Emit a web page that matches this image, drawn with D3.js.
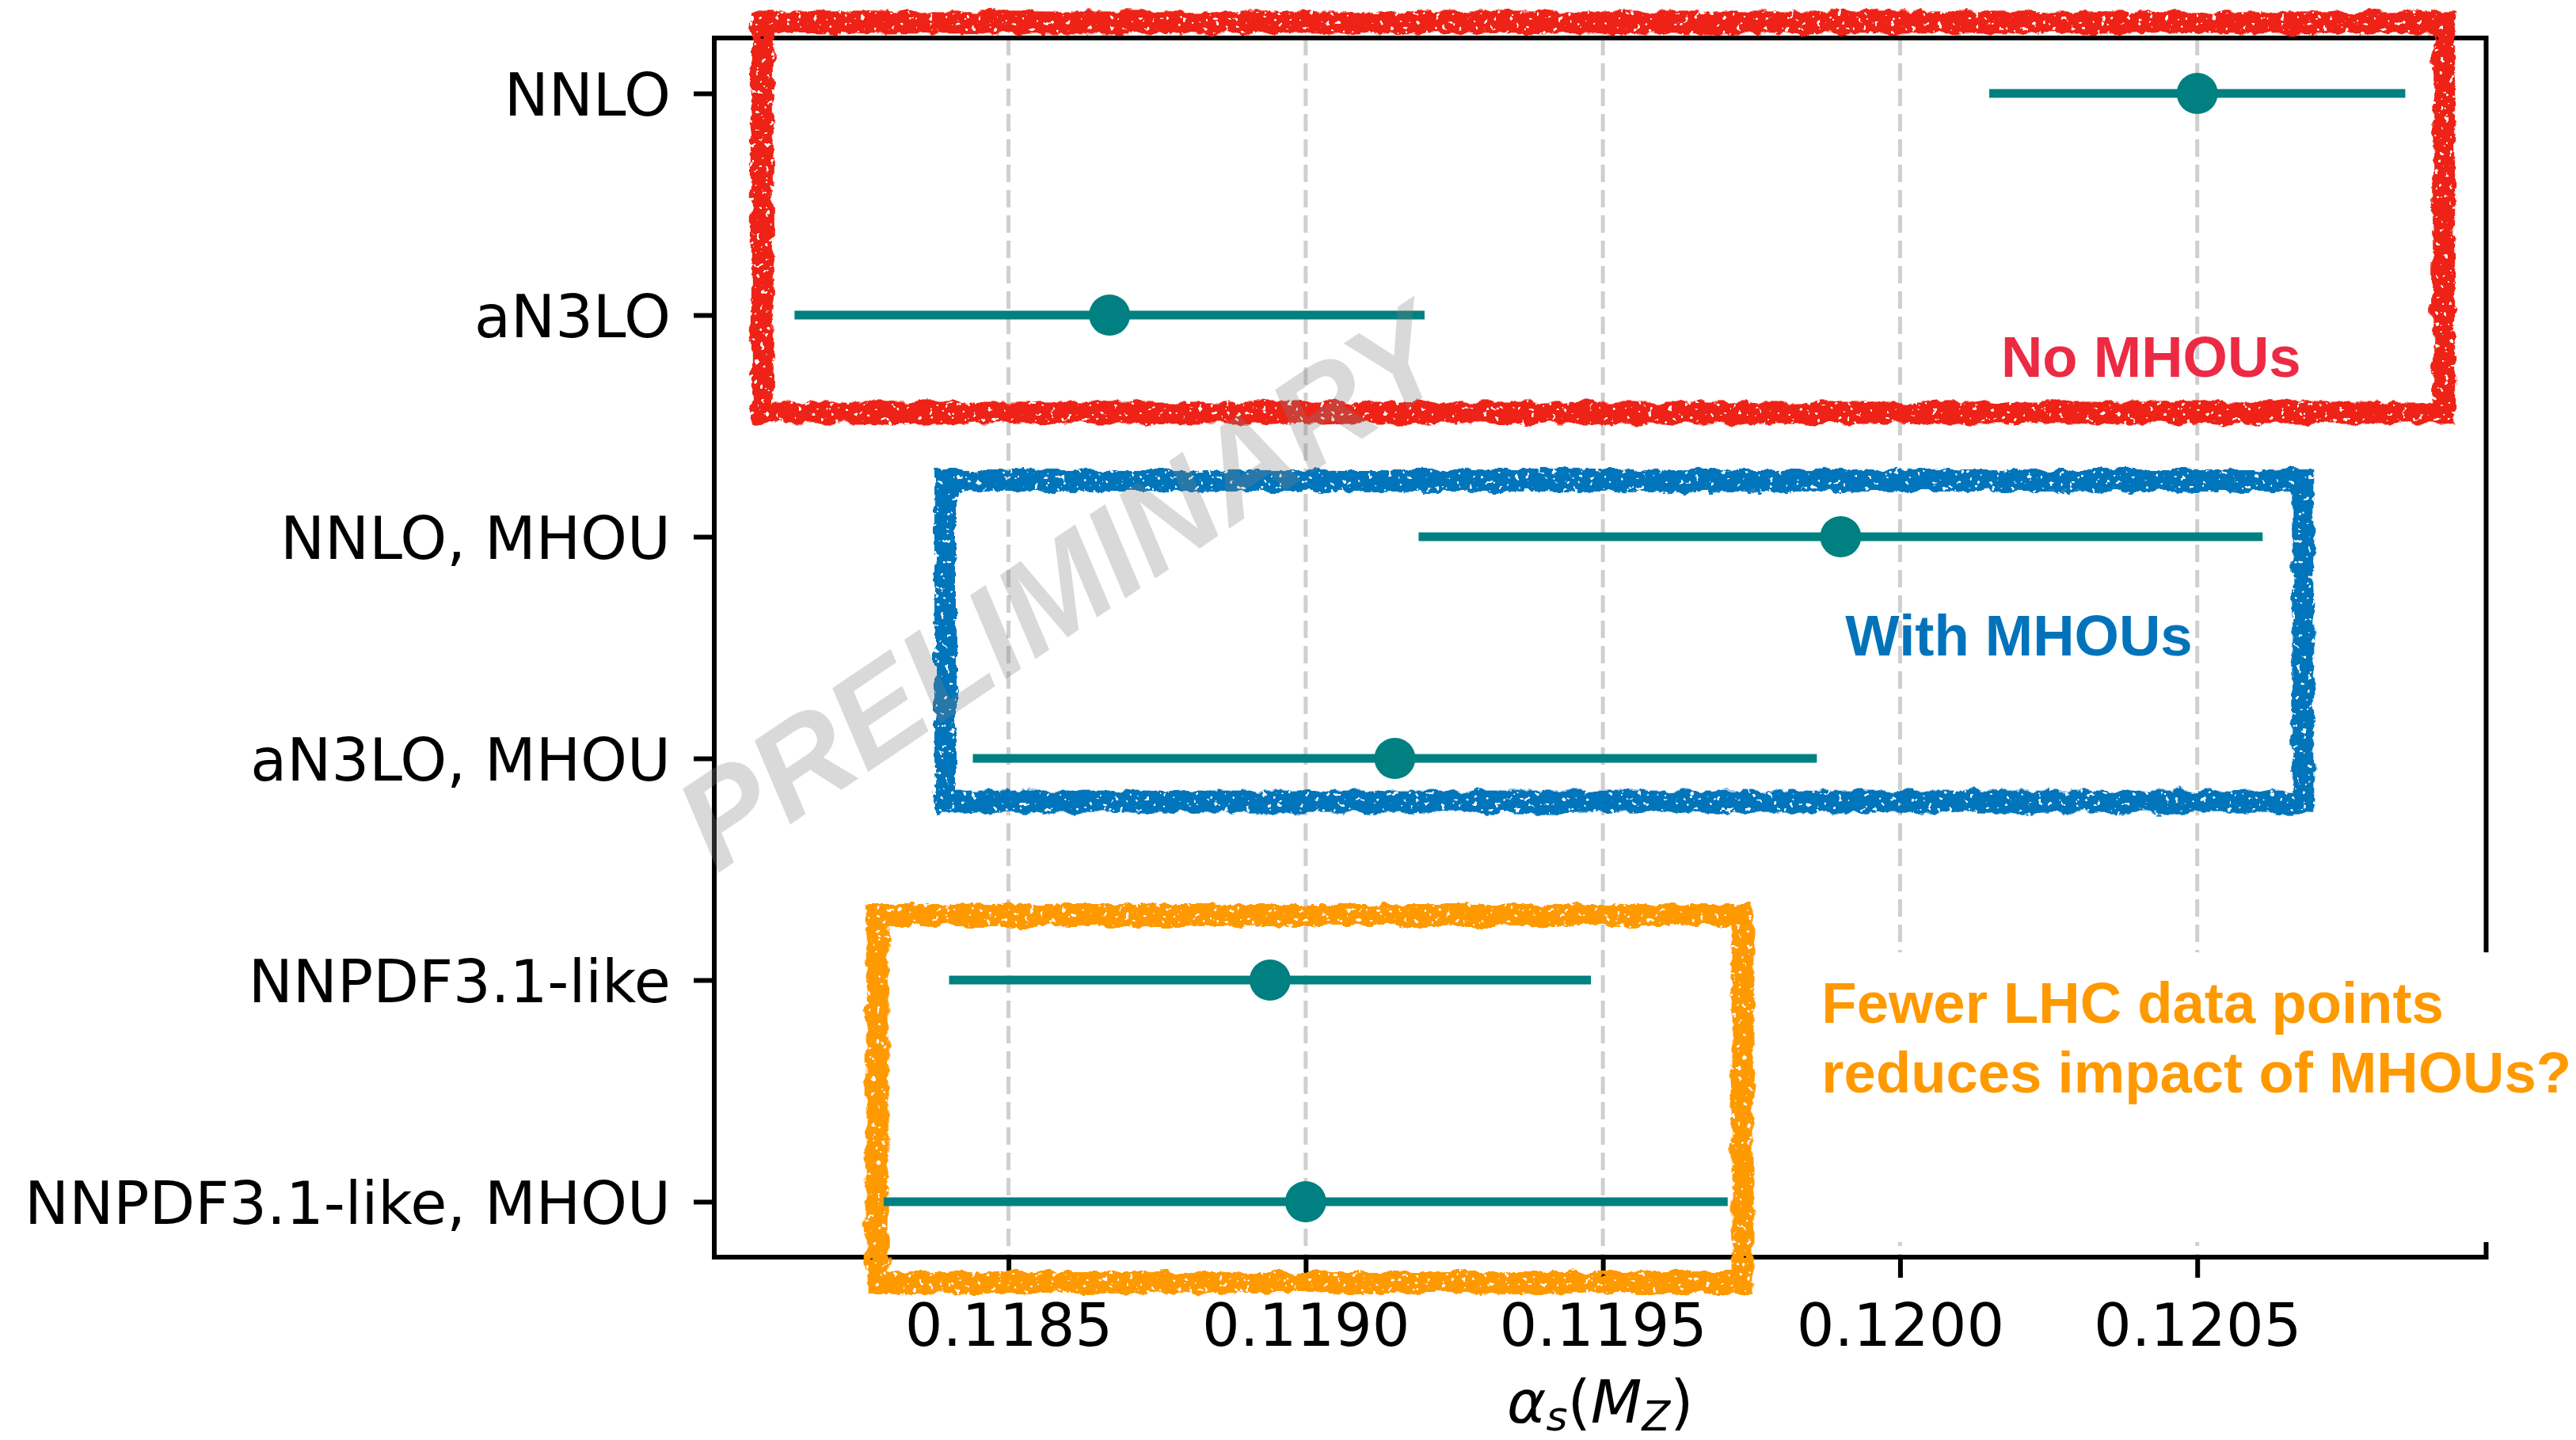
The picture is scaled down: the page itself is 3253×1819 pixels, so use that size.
<!DOCTYPE html>
<html>
<head>
<meta charset="utf-8">
<script src="https://cdn.jsdelivr.net/npm/d3@7"></script>
<style>
  html, body { margin: 0; padding: 0; background: #ffffff; }
  svg { display: block; }
</style>
</head>
<body>
<script>
// ---------------- data ----------------
const categories = ["NNLO", "aN3LO", "NNLO, MHOU", "aN3LO, MHOU", "NNPDF3.1-like", "NNPDF3.1-like, MHOU"];
const centralValues = [0.12050, 0.11867, 0.11990, 0.11915, 0.11894, 0.11900];
const errorValues   = [0.00035, 0.00053, 0.00071, 0.00071, 0.00054, 0.00071];
const xTickValues   = [0.1185, 0.1190, 0.1195, 0.1200, 0.1205];
const xTickLabels   = ["0.1185", "0.1190", "0.1195", "0.1200", "0.1205"];
const xDomain       = [0.118005, 0.120986];

// annotation boxes (x in alpha_s units, y in row-index units)
const boxNames  = ["noMHOU", "withMHOU", "nnpdf31"];
const boxXRange = [[0.118086, 0.120915], [0.118394, 0.120678], [0.118279, 0.119735]];
const boxYRange = [[-0.320, 1.441], [1.746, 3.195], [3.707, 5.364]];
const boxColors = ["#ee2412", "#0274bb", "#ff9900"];

const noteLines  = [["No MHOUs"], ["With MHOUs"], ["Fewer LHC data points", "reduces impact of MHOUs?"]];
const noteX      = [0.120170, 0.119908, 0.119868];
const noteY      = [1.279, 2.536, 4.193];
const noteColors = ["#ec2a43", "#0273bb", "#ff9900"];

// ---------------- layout ----------------
(function () {
const W = 3253, H = 1819;
const pLeft = 902, pRight = 3139.5, pTop = 48, pBottom = 1588;

const svg = d3.select("body").append("svg")
  .attr("width", W).attr("height", H)
  .attr("viewBox", `0 0 ${W} ${H}`);

svg.append("rect").attr("width", W).attr("height", H).attr("fill", "#fff");

const defs = svg.append("defs");
const f = defs.append("filter").attr("id", "rough")
  .attr("x", "-10%").attr("y", "-15%").attr("width", "120%").attr("height", "130%");
f.append("feTurbulence").attr("type", "fractalNoise").attr("baseFrequency", "0.05")
  .attr("numOctaves", 4).attr("seed", 4).attr("result", "t1");
f.append("feDisplacementMap").attr("in", "SourceGraphic").attr("in2", "t1")
  .attr("scale", 13).attr("xChannelSelector", "R").attr("yChannelSelector", "G").attr("result", "d");
f.append("feTurbulence").attr("type", "fractalNoise").attr("baseFrequency", "0.15")
  .attr("numOctaves", 2).attr("seed", 11).attr("result", "t2");
const ct = f.append("feComponentTransfer").attr("in", "t2").attr("result", "mask");
ct.append("feFuncA").attr("type", "linear").attr("slope", -25).attr("intercept", 18);
f.append("feComposite").attr("in", "d").attr("in2", "mask").attr("operator", "in");

const x = d3.scaleLinear().domain(xDomain).range([pLeft, pRight]);
const y = d3.scalePoint().domain(categories).range([pTop, pBottom]).padding(0.25);
const yIdx = d3.scaleLinear().domain([-0.25, categories.length - 0.75]).range([pTop, pBottom]);

// grid lines
svg.append("g").selectAll("line").data(xTickValues).join("line")
  .attr("x1", d => x(d)).attr("x2", d => x(d))
  .attr("y1", pTop).attr("y2", pBottom)
  .attr("stroke", "#cfcfcf").attr("stroke-width", 5)
  .attr("stroke-dasharray", "22,10");

// frame (spines)
svg.append("rect")
  .attr("x", pLeft).attr("y", pTop).attr("width", pRight - pLeft).attr("height", pBottom - pTop)
  .attr("fill", "none").attr("stroke", "#000").attr("stroke-width", 6);

// white background of the orange note (hides grid and spine there)
svg.append("rect")
  .attr("x", x(0.119800)).attr("y", 1203)
  .attr("width", W - x(0.119800)).attr("height", 1569 - 1203)
  .attr("fill", "#fff");

// axes
const xAxis = d3.axisBottom(x).tickValues(xTickValues).tickFormat((d, i) => xTickLabels[i])
  .tickSize(26).tickSizeOuter(0);
const gx = svg.append("g").attr("transform", `translate(0,${pBottom})`).call(xAxis);
gx.select(".domain").remove();
gx.selectAll(".tick line").attr("stroke", "#000").attr("stroke-width", 6);
gx.selectAll(".tick text").attr("y", 112).attr("dy", null)
  .attr("font-family", "DejaVu Sans").attr("font-size", 75).attr("fill", "#000");

const yAxis = d3.axisLeft(y).tickSize(26).tickSizeOuter(0);
const gy = svg.append("g").attr("transform", `translate(${pLeft},0)`).call(yAxis);
gy.select(".domain").remove();
gy.selectAll(".tick line").attr("stroke", "#000").attr("stroke-width", 6);
gy.selectAll(".tick text").attr("x", -55).attr("dy", "0.36em")
  .attr("font-family", "DejaVu Sans").attr("font-size", 75).attr("fill", "#000");

// x-axis label  alpha_s(M_Z)
const xl = svg.append("text")
  .attr("x", (pLeft + pRight) / 2).attr("y", 1797)
  .attr("text-anchor", "middle")
  .attr("font-family", "DejaVu Sans").attr("font-size", 75).attr("fill", "#000");
xl.append("tspan").attr("font-style", "italic").text("α");
xl.append("tspan").attr("font-style", "italic").attr("font-size", 52).attr("dy", 10).text("s");
xl.append("tspan").attr("dy", -10).text("(");
xl.append("tspan").attr("font-style", "italic").text("M");
xl.append("tspan").attr("font-style", "italic").attr("font-size", 52).attr("dy", 10).text("Z");
xl.append("tspan").attr("dy", -10).text(")");

// hand-drawn boxes
svg.append("g").selectAll("rect").data(boxNames).join("rect")
  .attr("x", (d, i) => x(boxXRange[i][0]))
  .attr("y", (d, i) => yIdx(boxYRange[i][0]))
  .attr("width", (d, i) => x(boxXRange[i][1]) - x(boxXRange[i][0]))
  .attr("height", (d, i) => yIdx(boxYRange[i][1]) - yIdx(boxYRange[i][0]))
  .attr("fill", "none")
  .attr("stroke", (d, i) => boxColors[i])
  .attr("stroke-width", 28)
  .attr("filter", "url(#rough)");

// error bars
const gE = svg.append("g");
gE.selectAll("line").data(categories).join("line")
  .attr("x1", (d, i) => x(centralValues[i] - errorValues[i]))
  .attr("x2", (d, i) => x(centralValues[i] + errorValues[i]))
  .attr("y1", d => y(d)).attr("y2", d => y(d))
  .attr("stroke", "#008080").attr("stroke-width", 11);
gE.selectAll("circle").data(categories).join("circle")
  .attr("cx", (d, i) => x(centralValues[i]))
  .attr("cy", d => y(d))
  .attr("r", 26)
  .attr("fill", "#008080");

// notes
noteLines.forEach((lines, i) => {
  const t = svg.append("text")
    .attr("x", x(noteX[i])).attr("y", yIdx(noteY[i]))
    .attr("font-family", "Liberation Sans, Arial, Helvetica, sans-serif")
    .attr("font-weight", "bold").attr("font-size", 72.5)
    .attr("fill", noteColors[i]);
  lines.forEach((ln, j) => {
    t.append("tspan").attr("x", x(noteX[i])).attr("dy", j === 0 ? 0 : 88).text(ln);
  });
});

// watermark
svg.append("text")
  .attr("transform", "translate(1372,789) rotate(-34)")
  .attr("text-anchor", "middle")
  .attr("font-family", "Liberation Sans, Arial, Helvetica, sans-serif")
  .attr("font-weight", "bold").attr("font-style", "italic")
  .attr("font-size", 164)
  .attr("fill", "#808080").attr("fill-opacity", 0.3)
  .text("PRELIMINARY");
})();
</script>
</body>
</html>
